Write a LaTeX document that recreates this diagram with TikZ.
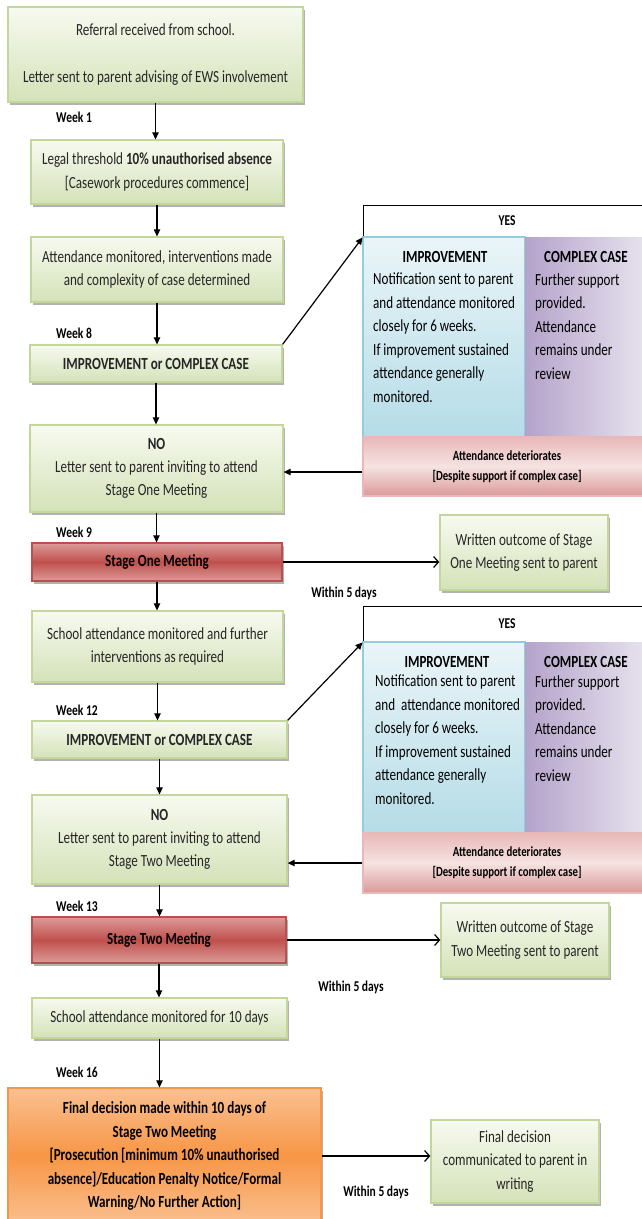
\documentclass[tikz,border=0pt]{standalone}
\usepackage{fontspec}
\setmainfont{Carlito}[FakeStretch=0.77]
\usetikzlibrary{arrows.meta,shadows}
\definecolor{gtop}{HTML}{F7FAF0}
\definecolor{gbot}{HTML}{D4E2B8}
\definecolor{gbrd}{HTML}{C3D69B}
\definecolor{txt}{HTML}{262626}
\definecolor{rtop}{HTML}{DB9B99}
\definecolor{rmid}{HTML}{C0504D}
\definecolor{rbrd}{HTML}{B9504D}
\definecolor{otop}{HTML}{FAC090}
\definecolor{omid}{HTML}{F79646}
\definecolor{btop}{HTML}{EAF5F8}
\definecolor{bbot}{HTML}{B5DCE7}
\definecolor{bbrd}{HTML}{93CDDD}
\definecolor{pl}{HTML}{B4A3CA}
\definecolor{pr}{HTML}{E7E2EE}
\definecolor{dtop}{HTML}{E8B9B8}
\definecolor{dmid}{HTML}{F5E3E2}
\definecolor{dbot}{HTML}{DA9998}
\begin{document}
\begin{tikzpicture}[x=1pt,y=-1pt,
  base/.style={font=\fontsize{17}{23.3}\selectfont, text=txt, align=center, inner sep=0pt},
  shad/.style={drop shadow={shadow xshift=2pt,shadow yshift=-2.5pt,fill=black,opacity=0.3}},
  gbox/.style={base, shad, draw=gbrd, line width=1.3pt, top color=gtop, bottom color=gbot},
  rbox/.style={base, shad, text=black, font=\bfseries\fontsize{17}{23.3}\selectfont, draw=rbrd, line width=1.3pt, top color=rtop, bottom color=rtop, middle color=rmid},
  obox/.style={base, shad, text=black, font=\bfseries\fontsize{17}{23.5}\selectfont, draw=omid, line width=1.3pt, top color=otop, bottom color=otop, middle color=omid},
  weeklbl/.style={font=\bfseries\fontsize{15}{18}\selectfont, anchor=west, inner sep=0pt, text=black},
  withinlbl/.style={font=\bfseries\fontsize{15}{18}\selectfont, inner sep=0pt, text=black},
  hdr/.style={draw=black, line width=0.9pt, fill=white, inner sep=0pt, font=\bfseries\fontsize{15}{18}\selectfont},
  imp/.style={draw=bbrd, line width=1.2pt, top color=btop, bottom color=bbot, inner sep=0pt},
  cpx/.style={draw=none, left color=pl, right color=pr, inner sep=0pt},
  det/.style={draw=dtop, line width=1.2pt, top color=dtop, bottom color=dbot, middle color=dmid, inner sep=0pt, align=center, font=\bfseries\fontsize{14}{20}\selectfont, text=black},
  phead/.style={font=\bfseries\fontsize{17}{23.5}\selectfont, inner sep=0pt, text=black},
  ptext/.style={font=\fontsize{17}{23.5}\selectfont, inner sep=0pt, align=left, anchor=north west, text=black},
  arr/.style={-{Triangle[length=7pt,width=6.5pt]}, line width=1.2pt, draw=black},
  oarr/.style={-{Straight Barb[length=5pt,width=11pt]}, line width=1.2pt, draw=black}
]
\useasboundingbox (0,0) rectangle (641,1219);

% main column
\node[gbox, minimum width=295pt, minimum height=95pt] (b1) at (155.5,54.5) {Referral received from school.\\[23.3pt]Letter sent to parent advising of EWS involvement};
\node[weeklbl] (w1l) at (56,117) {Week 1};
\node[gbox, minimum width=252pt, minimum height=64pt] (b2) at (157,172) {Legal threshold \textbf{10\% unauthorised absence}\\{}[Casework procedures commence]};
\node[gbox, minimum width=252pt, minimum height=65pt] (b3) at (157,269.5) {Attendance monitored, interventions made\\and complexity of case determined};
\node[weeklbl] (w8l) at (56,333) {Week 8};
\node[gbox, font=\bfseries\fontsize{17}{23.3}\selectfont, minimum width=252pt, minimum height=37pt] (b4) at (156,363.5) {IMPROVEMENT or COMPLEX CASE};
\node[gbox, minimum width=253pt, minimum height=87pt] (b5) at (156.5,468.5) {\textbf{NO}\\Letter sent to parent inviting to attend\\Stage One Meeting};
\node[weeklbl] (w9l) at (56,532) {Week 9};
\node[rbox, minimum width=250pt, minimum height=38pt] (b6) at (157,562) {Stage One Meeting};
\node[gbox, minimum width=168pt, minimum height=75pt] (o1) at (524,552.5) {Written outcome of Stage\\One Meeting sent to parent};
\node[withinlbl] (wd1) at (344,593) {Within 5 days};
\node[gbox, minimum width=251pt, minimum height=71pt] (b7) at (157.5,646.5) {School attendance monitored and further\\interventions as required};
\node[weeklbl] (w12l) at (56,710) {Week 12};
\node[gbox, font=\bfseries\fontsize{17}{23.3}\selectfont, minimum width=255pt, minimum height=37pt] (b8) at (159.5,739.5) {IMPROVEMENT or COMPLEX CASE};
\node[gbox, minimum width=255pt, minimum height=89pt] (b9) at (159.5,839.5) {\textbf{NO}\\Letter sent to parent inviting to attend\\Stage Two Meeting};
\node[weeklbl] (w13l) at (56,906) {Week 13};
\node[rbox, minimum width=254pt, minimum height=46pt] (b10) at (159,940) {Stage Two Meeting};
\node[gbox, minimum width=168pt, minimum height=74pt] (o2) at (525,940) {Written outcome of Stage\\Two Meeting sent to parent};
\node[withinlbl] (wd2) at (351,987) {Within 5 days};
\node[gbox, minimum width=255pt, minimum height=40pt] (b11) at (159.5,1018) {School attendance monitored for 10 days};
\node[weeklbl] (w16l) at (56,1072) {Week 16};
\node[obox, minimum width=313pt, minimum height=136pt] (b12) at (164.5,1156) {Final decision made within 10 days of\\Stage Two Meeting\\{}[Prosecution [minimum 10\% unauthorised\\absence]/Education Penalty Notice/Formal\\Warning/No Further Action]};
\node[gbox, minimum width=168pt, minimum height=83pt] (fd) at (515,1161.5) {Final decision\\communicated to parent in\\writing};
\node[withinlbl] (wd3) at (376,1192) {Within 5 days};

% YES group 1
\node[hdr, minimum width=282pt, minimum height=32pt] (hdr1) at (504,221) {\hspace*{6pt}YES};
\node[imp, minimum width=162pt, minimum height=200pt] (imp1) at (444,337) {};
\node[cpx, minimum width=120pt, minimum height=200pt] (cx1) at (585,337) {};
\node[det, minimum width=282pt, minimum height=59pt] (det1) at (504,466.5) {\hspace*{6pt}Attendance deteriorates\\{}\hspace*{6pt}[Despite support if complex case]};
\node[phead] (imp1h) at (445,257) {IMPROVEMENT};
\node[ptext] (imp1t) at (373,273) {Notification sent to parent\\and attendance monitored\\closely for 6 weeks.\\If improvement sustained\\attendance generally\\monitored.};
\node[phead] (cx1h) at (586,257) {COMPLEX CASE};
\node[ptext] (cx1t) at (535,273) {Further support\\provided.\\Attendance\\remains under\\review};

% YES group 2
\node[hdr, minimum width=282pt, minimum height=36pt] (hdr2) at (504,624) {\hspace*{6pt}YES};
\node[imp, minimum width=162pt, minimum height=191pt] (imp2) at (444,737.5) {};
\node[cpx, minimum width=120pt, minimum height=191pt] (cx2) at (585,737.5) {};
\node[det, minimum width=282pt, minimum height=60pt] (det2) at (504,863) {\hspace*{6pt}Attendance deteriorates\\{}\hspace*{6pt}[Despite support if complex case]};
\node[phead] (imp2h) at (447,662) {IMPROVEMENT};
\node[ptext] (imp2t) at (375,675) {Notification sent to parent\\and\ \ attendance monitored\\closely for 6 weeks.\\If improvement sustained\\attendance generally\\monitored.};
\node[phead] (cx2h) at (586,662) {COMPLEX CASE};
\node[ptext] (cx2t) at (535,675) {Further support\\provided.\\Attendance\\remains under\\review};

% connectors
\draw[arr] (b1.south) -- (b1.south |- b2.north);
\draw[arr] (b2.south) -- (b2.south |- b3.north);
\draw[arr] (b3.south) -- (b3.south |- b4.north);
\draw[arr] (b4.north east) -- (hdr1.south west);
\draw[arr] (b4.south) -- (b4.south |- b5.north);
\coordinate (d1) at ([yshift=-5.5pt]det1.west);
\draw[arr] (d1) -- (d1 -| b5.east);
\draw[arr] (b5.south) -- (b5.south |- b6.north);
\draw[oarr] (b6.east) -- (b6.east -| o1.west);
\draw[arr] (b6.south) -- (b6.south |- b7.north);
\draw[arr] (b7.south) -- (b7.south |- b8.north);
\draw[arr] (b8.north east) -- (hdr2.south west);
\draw[arr] (b8.south) -- (b8.south |- b9.north);
\draw[arr] (det2.west) -- (det2.west -| b9.east);
\draw[arr] (b9.south) -- (b9.south |- b10.north);
\draw[oarr] (b10.east) -- (b10.east -| o2.west);
\draw[arr] (b10.south) -- (b10.south |- b11.north);
\draw[arr] (b11.south) -- (b11.south |- b12.north);
\draw[oarr] (b12.east) -- (b12.east -| fd.west);
\end{tikzpicture}
\end{document}
